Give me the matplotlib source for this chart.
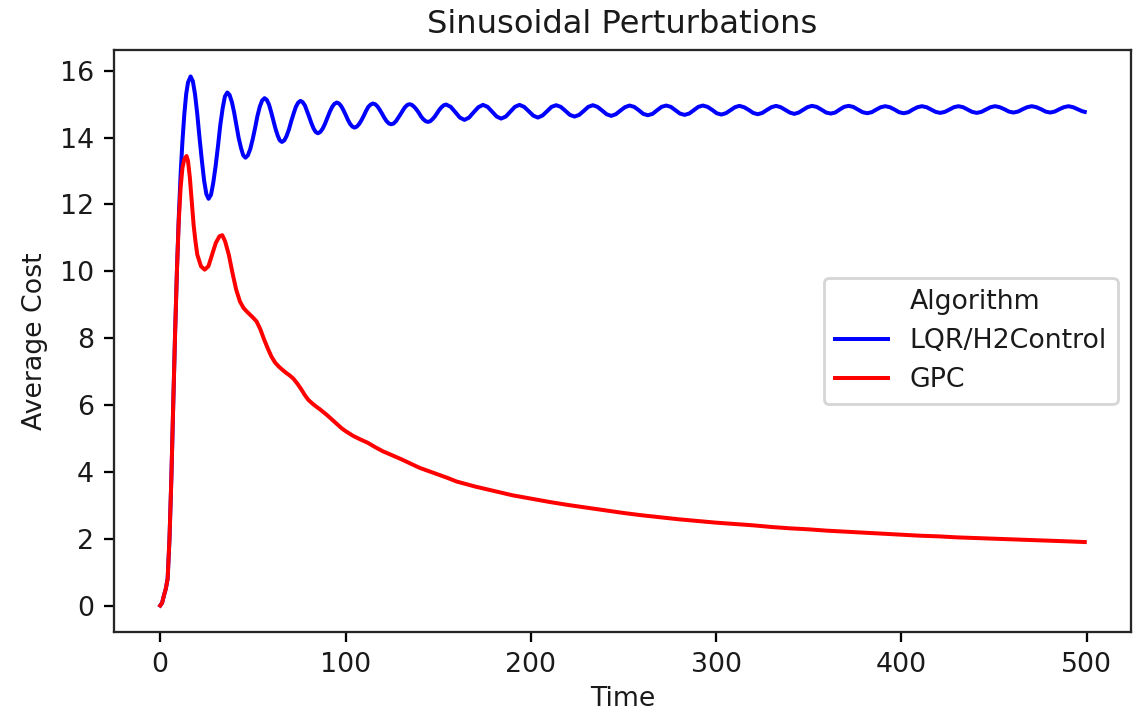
import matplotlib
matplotlib.use("Agg")
import matplotlib.pyplot as plt
from matplotlib.lines import Line2D

# ---------------- data ----------------
title = "Sinusoidal Perturbations"
x_label = "Time"
y_label = "Average Cost"
legend_title = "Algorithm"
series_names = ["LQR/H2Control", "GPC"]

lqr_t = [0, 1, 2, 3, 4, 5, 6, 7, 8, 9, 10, 11, 12, 13, 14, 15, 16.4,
         17.6, 18.8, 20.0, 21.2, 22.5, 23.7, 24.9, 26.1,
         27.4, 28.6, 29.9, 31.2, 32.4, 33.7, 34.9, 36.2,
         37.4, 38.7, 39.9, 41.1, 42.3, 43.6, 44.8, 46.0,
         47.3, 48.6, 49.9, 51.2, 52.4, 53.7, 55.0, 56.3,
         57.5, 58.7, 59.8, 61.0, 62.2, 63.4, 64.5, 65.7,
         67.0, 68.2, 69.5, 70.7, 72.0, 73.2, 74.5, 75.7,
         76.9, 78.1, 79.2, 80.4, 81.6, 82.8, 83.9, 85.1,
         86.4, 87.7, 88.9, 90.2, 91.5, 92.8, 94.0, 95.3,
         96.5, 97.7, 98.9, 100.1, 101.3, 102.5, 103.7, 104.9,
         106.1, 107.4, 108.6, 109.9, 111.1, 112.3, 113.6, 114.8,
         116.0, 117.3, 118.5, 119.8, 121.0, 122.2, 123.5, 124.7,
         125.9, 127.2, 128.4, 129.7, 130.9, 132.1, 133.4, 134.6,
         135.8, 137.1, 138.3, 139.6, 140.8, 142.0, 143.3, 144.5,
         145.7, 146.9, 148.2, 149.4, 150.6, 151.8, 153.1, 154.3,
         156.8, 159.3, 161.7, 164.2, 166.7, 169.2, 171.7, 174.2,
         176.7, 179.1, 181.6, 184.0, 186.5, 189.0, 191.4, 193.9,
         196.4, 198.9, 201.3, 203.8, 206.3, 208.8, 211.2, 213.7,
         216.2, 218.7, 221.1, 223.6, 226.1, 228.6, 231.0, 233.5,
         236.0, 238.5, 240.9, 243.4, 245.9, 248.4, 250.8, 253.3,
         255.8, 258.3, 260.7, 263.2, 265.7, 268.2, 270.6, 273.1,
         275.6, 278.1, 280.5, 283.0, 285.5, 288.0, 290.4, 292.9,
         295.4, 297.9, 300.3, 302.8, 305.3, 307.7, 310.2, 312.6,
         315.1, 317.6, 320.0, 322.5, 325.0, 327.5, 329.9, 332.4,
         334.9, 337.3, 339.8, 342.2, 344.6, 347.0, 349.3, 351.7,
         354.3, 356.8, 359.4, 361.9, 364.3, 366.7, 369.1, 371.5,
         374.0, 376.6, 379.1, 381.6, 384.0, 386.5, 388.9, 391.3,
         393.8, 396.3, 398.8, 401.3, 403.8, 406.2, 408.7, 411.1,
         413.6, 416.1, 418.5, 421.0, 423.5, 425.9, 428.4, 430.8,
         433.3, 435.8, 438.2, 440.7, 443.2, 445.7, 448.1, 450.6,
         453.1, 455.6, 458.0, 460.5, 463.0, 465.5, 467.9, 470.4,
         472.9, 475.4, 477.8, 480.3, 482.8, 485.3, 487.7, 490.2,
         492.7, 495.2, 497.6, 499.0]
lqr_cost = [0.0, 0.08, 0.3, 0.5, 0.8, 2.0, 3.8, 6.0, 8.1, 10.0, 11.6, 12.9, 13.9, 14.7, 15.3, 15.65, 15.83,
            15.69, 15.29, 14.70, 14.00, 13.30, 12.71, 12.31, 12.17,
            12.29, 12.64, 13.15, 13.76, 14.37, 14.88, 15.23, 15.35,
            15.28, 15.06, 14.75, 14.38, 14.00, 13.69, 13.47, 13.40,
            13.47, 13.66, 13.95, 14.29, 14.63, 14.92, 15.11, 15.18,
            15.13, 14.99, 14.78, 14.53, 14.27, 14.06, 13.92, 13.87,
            13.92, 14.05, 14.25, 14.49, 14.72, 14.92, 15.05, 15.10,
            15.06, 14.96, 14.80, 14.62, 14.43, 14.27, 14.17, 14.13,
            14.17, 14.27, 14.41, 14.59, 14.77, 14.92, 15.01, 15.05,
            15.02, 14.94, 14.82, 14.68, 14.53, 14.41, 14.33, 14.30,
            14.33, 14.41, 14.52, 14.66, 14.80, 14.92, 14.99, 15.02,
            15.00, 14.93, 14.83, 14.71, 14.59, 14.49, 14.42, 14.40,
            14.42, 14.49, 14.59, 14.70, 14.81, 14.91, 14.98, 15.00,
            14.98, 14.92, 14.84, 14.74, 14.63, 14.55, 14.49, 14.47,
            14.49, 14.55, 14.63, 14.73, 14.83, 14.91, 14.97, 14.99,
            14.92, 14.76, 14.60, 14.53, 14.60, 14.76, 14.91, 14.98,
            14.92, 14.78, 14.63, 14.57, 14.63, 14.78, 14.92, 14.98,
            14.92, 14.79, 14.66, 14.60, 14.66, 14.79, 14.92, 14.97,
            14.92, 14.80, 14.68, 14.63, 14.68, 14.80, 14.92, 14.97,
            14.92, 14.81, 14.70, 14.65, 14.70, 14.81, 14.91, 14.96,
            14.92, 14.82, 14.71, 14.67, 14.71, 14.82, 14.92, 14.96,
            14.92, 14.82, 14.72, 14.68, 14.72, 14.82, 14.92, 14.96,
            14.92, 14.83, 14.73, 14.69, 14.73, 14.82, 14.91, 14.95,
            14.91, 14.83, 14.74, 14.70, 14.74, 14.83, 14.91, 14.95,
            14.91, 14.83, 14.75, 14.71, 14.75, 14.83, 14.91, 14.95,
            14.92, 14.84, 14.75, 14.72, 14.75, 14.84, 14.92, 14.95,
            14.92, 14.84, 14.76, 14.73, 14.76, 14.84, 14.91, 14.94,
            14.91, 14.84, 14.76, 14.73, 14.76, 14.84, 14.91, 14.94,
            14.91, 14.84, 14.77, 14.74, 14.77, 14.84, 14.91, 14.94,
            14.91, 14.84, 14.77, 14.74, 14.77, 14.84, 14.91, 14.94,
            14.91, 14.85, 14.78, 14.75, 14.78, 14.85, 14.91, 14.94,
            14.91, 14.85, 14.78, 14.75, 14.78, 14.85, 14.91, 14.94,
            14.91, 14.85, 14.79, 14.77]

gpc_t = [0, 1, 2, 3, 4, 5, 6, 7, 8, 9, 10, 11, 12, 13, 14.2, 15, 16, 17, 18, 19, 20,
         22, 24, 26, 28, 30, 32, 33.5, 35, 37, 39, 41, 43, 45, 47, 50, 52, 54, 56,
         58, 60, 62, 64, 66, 68, 70, 72, 74, 76, 78, 80, 82, 84, 86, 88, 90, 92,
         94, 96, 98, 100, 104, 108, 112, 116, 120, 125, 130, 135, 140, 145, 150,
         155, 160, 170, 180, 190, 200, 210, 220, 230, 240, 250, 260, 270, 280,
         290, 300, 310, 320, 330, 340, 350, 360, 370, 380, 390, 400, 410, 420,
         430, 440, 450, 460, 470, 480, 490, 499]
gpc_cost = [0.0, 0.08, 0.3, 0.5, 0.8, 2.0, 3.8, 6.0, 8.1, 10.0, 11.5, 12.5, 13.1, 13.35, 13.45, 13.3, 12.8, 12.1, 11.4, 10.9, 10.5,
            10.15, 10.05, 10.15, 10.5, 10.85, 11.05, 11.08, 10.9, 10.5, 9.95, 9.45, 9.1, 8.9, 8.78, 8.62, 8.5, 8.27, 7.97,
            7.7, 7.45, 7.27, 7.15, 7.05, 6.96, 6.88, 6.78, 6.64, 6.48, 6.3, 6.15, 6.05, 5.96, 5.88, 5.79, 5.7, 5.6,
            5.5, 5.4, 5.3, 5.22, 5.08, 4.97, 4.87, 4.74, 4.62, 4.50, 4.38, 4.25, 4.12, 4.02, 3.92,
            3.82, 3.71, 3.56, 3.43, 3.30, 3.20, 3.10, 3.01, 2.93, 2.85, 2.77, 2.70, 2.64, 2.58,
            2.53, 2.48, 2.44, 2.40, 2.35, 2.31, 2.28, 2.24, 2.21, 2.18, 2.15, 2.12, 2.09, 2.07,
            2.04, 2.02, 2.00, 1.98, 1.96, 1.94, 1.92, 1.90]

series_colors = ["blue", "red"]

# ---------------- figure ----------------
plt.rcParams["font.size"] = 9.4
plt.rcParams["text.color"] = "#1a1a1a"
plt.rcParams["axes.labelcolor"] = "#1a1a1a"
plt.rcParams["xtick.labelcolor"] = "#1a1a1a"
plt.rcParams["ytick.labelcolor"] = "#1a1a1a"
plt.rcParams["axes.edgecolor"] = "#262626"

DPI = 205
fig = plt.figure(figsize=(1143 / DPI, 716 / DPI), dpi=DPI)
ax = fig.add_axes([114 / 1143, 1 - 632 / 716, (1131 - 114) / 1143, (632 - 50) / 716])

h1, = ax.plot(lqr_t, lqr_cost, color=series_colors[0], lw=1.4, label=series_names[0])
h2, = ax.plot(gpc_t, gpc_cost, color=series_colors[1], lw=1.4, label=series_names[1])

ax.set_title(title, fontsize=11.3, pad=6)
ax.set_xlabel(x_label, labelpad=3)
ax.set_ylabel(y_label)
ax.set_xticks([0, 100, 200, 300, 400, 500])
ax.set_yticks([0, 2, 4, 6, 8, 10, 12, 14, 16])

title_handle = Line2D([], [], color="none")
ax.legend([title_handle, h1, h2], [legend_title] + series_names, loc="center right")

fig.savefig("out.png", dpi=DPI)
